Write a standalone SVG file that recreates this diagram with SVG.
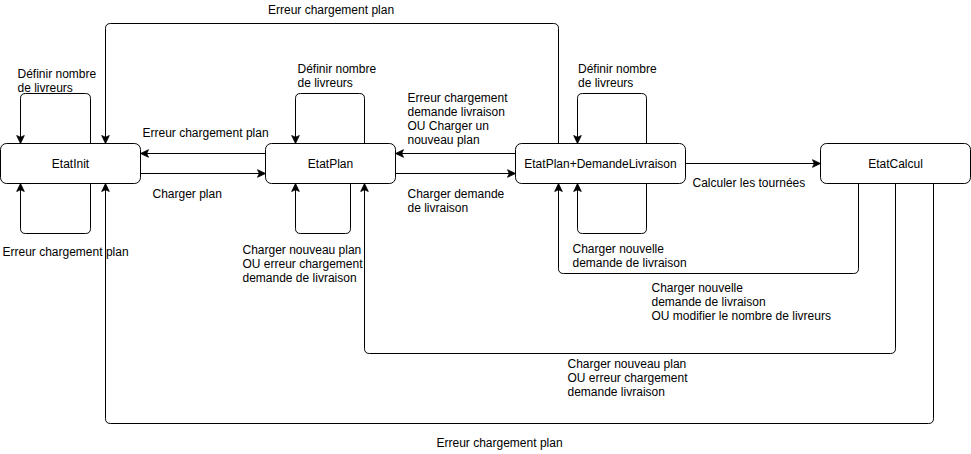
<svg xmlns="http://www.w3.org/2000/svg" width="971" height="454" viewBox="0 0 971 454">
<style>
.node rect{fill:#fff;stroke:#000;stroke-width:1}
.node text{font-family:"Liberation Sans",Arial,sans-serif;font-size:12px;fill:#000;text-anchor:middle}
.edges path{fill:none;stroke:#000;stroke-width:1;marker-end:url(#arr)}
.lbl{font-family:"Liberation Sans",Arial,sans-serif;font-size:12px;fill:#000}
</style>
<defs>
<marker id="arr" markerUnits="userSpaceOnUse" markerWidth="10" markerHeight="10" viewBox="0 0 10 10" refX="9" refY="5" orient="auto">
<path d="M1,1.2 L9,5 L1,8.8 L2.8,5 Z" fill="#000" stroke="#000" stroke-width="0.8"/>
</marker>
</defs>
<rect width="971" height="454" fill="#fff"/>
<g id="edges" class="edges">
<path d="M558.5,143.5 V28.5 Q558.5,23.5 553.5,23.5 H110.5 Q105.5,23.5 105.5,28.5 V143.5"/>
<path d="M90.5,143.5 V98.5 Q90.5,93.5 85.5,93.5 H25.5 Q20.5,93.5 20.5,98.5 V143.5"/>
<path d="M90.5,183.5 V228.5 Q90.5,233.5 85.5,233.5 H25.5 Q20.5,233.5 20.5,228.5 V183.5"/>
<path d="M265.5,153.5 H140.5"/>
<path d="M140.5,173.5 H265.5"/>
<path d="M364.5,143.5 V98.5 Q364.5,93.5 359.5,93.5 H300.5 Q295.5,93.5 295.5,98.5 V143.5"/>
<path d="M350.5,183.5 V228.5 Q350.5,233.5 345.5,233.5 H300.5 Q295.5,233.5 295.5,228.5 V183.5"/>
<path d="M515.5,153.5 H395.5"/>
<path d="M395.5,173.5 H515.5"/>
<path d="M646.5,143.5 V98.5 Q646.5,93.5 641.5,93.5 H582.5 Q577.5,93.5 577.5,98.5 V143.5"/>
<path d="M646.5,183.5 V228.5 Q646.5,233.5 641.5,233.5 H582.5 Q577.5,233.5 577.5,228.5 V183.5"/>
<path d="M685.5,163.5 H820.5"/>
<path d="M858.5,183.5 V268.5 Q858.5,273.5 853.5,273.5 H563.5 Q558.5,273.5 558.5,268.5 V183.5"/>
<path d="M895.5,183.5 V348.5 Q895.5,353.5 890.5,353.5 H369.5 Q364.5,353.5 364.5,348.5 V183.5"/>
<path d="M933.5,183.5 V418.5 Q933.5,423.5 928.5,423.5 H110.5 Q105.5,423.5 105.5,418.5 V183.5"/>
</g>
<g id="edge-labels" class="lbl">
<text x="268" y="13.5">Erreur chargement plan</text>
<text x="17.5" y="77.5">Définir nombre</text>
<text x="17.5" y="91.5">de livreurs</text>
<text x="2.5" y="255.5">Erreur chargement plan</text>
<text x="142.5" y="136.5">Erreur chargement plan</text>
<text x="152.5" y="198">Charger plan</text>
<text x="297.5" y="72.5">Définir nombre</text>
<text x="297.5" y="86.5">de livreurs</text>
<text x="242.5" y="253.5">Charger nouveau plan</text>
<text x="242.5" y="267.5">OU erreur chargement</text>
<text x="242.5" y="281.5">demande de livraison</text>
<text x="407.5" y="102">Erreur chargement</text>
<text x="407.5" y="116">demande livraison</text>
<text x="407.5" y="130">OU Charger un</text>
<text x="407.5" y="144">nouveau plan</text>
<text x="407.5" y="198">Charger demande</text>
<text x="407.5" y="212">de livraison</text>
<text x="578" y="73">Définir nombre</text>
<text x="578" y="87">de livreurs</text>
<text x="572.5" y="253">Charger nouvelle</text>
<text x="572.5" y="267">demande de livraison</text>
<text x="692.5" y="186.5">Calculer les tournées</text>
<text x="651.5" y="292">Charger nouvelle</text>
<text x="651.5" y="306">demande de livraison</text>
<text x="651.5" y="320">OU modifier le nombre de livreurs</text>
<text x="567.5" y="367.5">Charger nouveau plan</text>
<text x="567.5" y="381.5">OU erreur chargement</text>
<text x="567.5" y="395.5">demande livraison</text>
<text x="436.5" y="447">Erreur chargement plan</text>
</g>
<g id="EtatInit" class="node"><rect x="0.5" y="143.5" width="140" height="40" rx="6"/><text x="70.5" y="167.5">EtatInit</text></g>
<g id="EtatPlan" class="node"><rect x="265.5" y="143.5" width="130" height="40" rx="6"/><text x="330.5" y="167.5">EtatPlan</text></g>
<g id="EtatPlanDemandeLivraison" class="node"><rect x="515.5" y="143.5" width="170" height="40" rx="6"/><text x="600.5" y="167.5">EtatPlan+DemandeLivraison</text></g>
<g id="EtatCalcul" class="node"><rect x="820.5" y="143.5" width="150" height="40" rx="6"/><text x="895.5" y="167.5">EtatCalcul</text></g>
</svg>
